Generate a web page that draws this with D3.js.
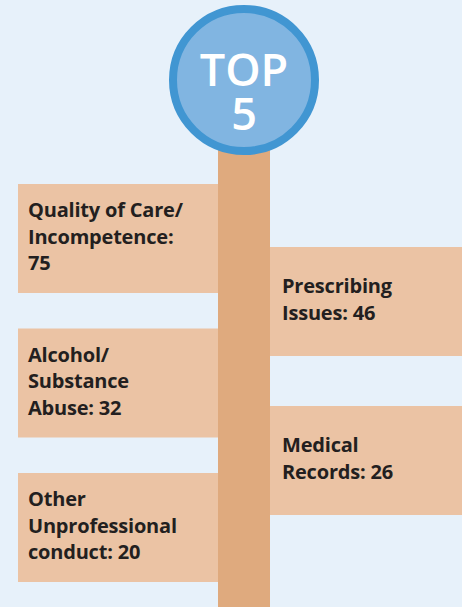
<!DOCTYPE html>
<html>
<head>
<meta charset="utf-8">
<script src="https://cdn.jsdelivr.net/npm/d3@7"></script>
<style>
  html, body { margin: 0; padding: 0; background: #e7f1fa; }
  svg { display: block; }
</style>
</head>
<body>
<svg id="chart" width="462" height="607"></svg>
<script>
// ---- data ----
const categories = [
  "Quality of Care/\nIncompetence:\n",
  "Prescribing\nIssues: ",
  "Alcohol/\nSubstance\nAbuse: ",
  "Medical\nRecords: ",
  "Other\nUnprofessional\nconduct: "
];
const values = [75, 46, 32, 26, 20];
const sides = ["left", "right", "left", "right", "left"];
const titleLines = ["TOP", "5"];

// ---- layout ----
const W = 462, H = 607;
const svg = d3.select("#chart");
const cx = 244;
const stemW = 52;
const boxH = 109;
const lineH = 26.5;

const items = categories.map((c, i) => ({ cat: c, value: values[i], side: sides[i], i }));
const leftItems = items.filter(d => d.side === "left");
const rightItems = items.filter(d => d.side === "right");

const yLeft = d3.scalePoint().domain(leftItems.map(d => d.i)).range([184, 473]);
const yRight = d3.scalePoint().domain(rightItems.map(d => d.i)).range([247, 406]);
const yPos = d => d.side === "left" ? yLeft(d.i) : yRight(d.i);
const xBox = d3.scaleOrdinal().domain(["left", "right"]).range([18, cx + stemW / 2]);
const wBox = d3.scaleOrdinal().domain(["left", "right"]).range([cx - stemW / 2 - 18, W - (cx + stemW / 2)]);
const pad = d3.scaleOrdinal().domain(["left", "right"]).range([10, 12]);

// background
svg.append("rect").attr("width", W).attr("height", H).attr("fill", "#e7f1fa");

// stem
svg.append("rect")
  .attr("x", cx - stemW / 2).attr("y", 120)
  .attr("width", stemW).attr("height", H - 120)
  .attr("fill", "#dfaa7e");

// boxes
const g = svg.selectAll("g.item").data(items).join("g").attr("class", "item")
  .attr("transform", d => `translate(${xBox(d.side)},${yPos(d)})`);

g.append("rect")
  .attr("width", d => wBox(d.side))
  .attr("height", boxH)
  .attr("fill", "#ebc3a4");

g.each(function(d) {
  const lines = (d.cat + d.value).split("\n");
  const n = lines.length;
  const first = boxH / 2 - (n - 1) * lineH / 2 + 5;
  d3.select(this).append("text")
    .attr("font-family", "'Open Sans', sans-serif")
    .attr("font-weight", 700)
    .attr("font-size", 20)
    .attr("letter-spacing", -0.2)
    .attr("fill", "#231f20")
    .selectAll("tspan").data(lines).join("tspan")
    .attr("x", pad(d.side))
    .attr("y", (l, k) => first + k * lineH)
    .text(l => l);
});

// circle
svg.append("circle")
  .attr("cx", cx).attr("cy", 80).attr("r", 71)
  .attr("fill", "#81b5e1")
  .attr("stroke", "#4196d2")
  .attr("stroke-width", 8);

svg.selectAll("text.title").data(titleLines).join("text")
  .attr("class", "title")
  .attr("text-anchor", "middle")
  .attr("font-family", "'Open Sans', sans-serif")
  .attr("font-weight", 600)
  .attr("font-size", 45)
  .attr("fill", "#ffffff")
  .attr("x", cx)
  .attr("y", (l, k) => 86 + k * 44)
  .text(l => l);
</script>
</body>
</html>
